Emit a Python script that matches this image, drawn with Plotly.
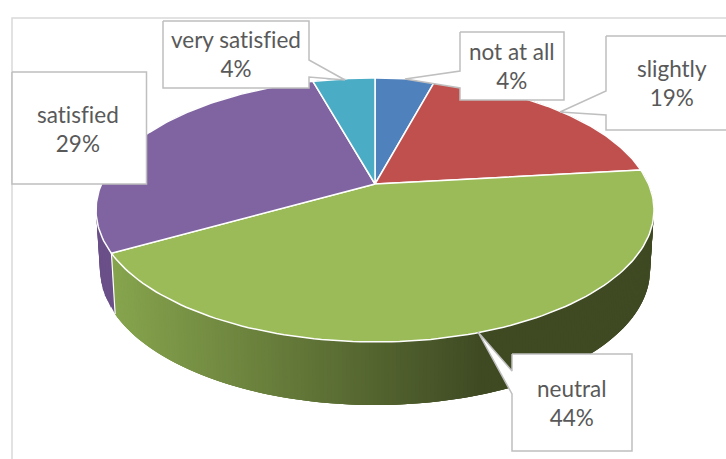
import numpy as np
import plotly.graph_objects as go

categories = ["not at all", "slightly", "neutral", "satisfied", "very satisfied"]
values = [4.2, 19.0, 43.6, 28.85, 4.35]
top_colors = ["#4F81BD", "#C0504D", "#9BBB59", "#8064A2", "#4BACC6"]
wall_colors = ["#3F608C", "#8E3B39", None, "#6A4F88", "#38809A"]

W, H = 726, 459
FRAME = "#D9D9D9"
BOX = "#BFBFBF"
TEXT = "#595959"
FONT = "Lato"
FS = 22.5

# Perspective projection of the unit circle onto the two rims
K = -0.197
def project(theta, cx, cy, cxs, ya):
    u, v = np.sin(theta), -np.cos(theta)
    d = 1 + K * v
    return cx + cxs * u / d, cy + ya * v / d

def top(theta):
    return project(theta, 375, 184, 273.5, 126.9)

def bottom(theta):
    return project(theta, 375, 243.4, 269.6, 129.8)

def mix(a, b, t):
    t = min(max(t, 0), 1)
    ca = [int(a[i:i+2], 16) for i in (1, 3, 5)]
    cb = [int(b[i:i+2], 16) for i in (1, 3, 5)]
    return "#%02X%02X%02X" % tuple(round(x + (y - x) * t) for x, y in zip(ca, cb))

fig = go.Figure()

def poly(xs, ys, fill, line=None, lw=1):
    fig.add_trace(go.Scatter(
        x=list(xs), y=list(ys), mode="lines", fill="toself", fillcolor=fill,
        line=dict(color=line or fill, width=lw), hoverinfo="skip", showlegend=False))

bounds = np.cumsum([0] + values) / sum(values) * 2 * np.pi

# side walls: each strip overlaps the next so no seams show
for i in range(len(values)):
    a0, a1 = bounds[i], bounds[i + 1]
    n = 240 if wall_colors[i] is None else 40
    edges = np.linspace(a0, a1, n + 1)
    step = edges[1] - edges[0]
    for e0 in edges[:-1]:
        e1 = min(e0 + 3 * step, a1)
        if wall_colors[i] is None:
            bx, _ = bottom(e0 + step / 2)
            col = mix("#86A44D", "#3F4A23", (bx - 118) / (480 - 118))
        else:
            col = wall_colors[i]
        tx0, ty0 = top(e0); tx1, ty1 = top(e1)
        bx0, by0 = bottom(e0); bx1, by1 = bottom(e1)
        poly([tx0, tx1, bx1, bx0, tx0], [ty0, ty1, by1, by0, ty0], col, lw=0)

# white edge between green and purple walls
ex0, ey0 = top(bounds[3]); ex1, ey1 = bottom(bounds[3])
fig.add_trace(go.Scatter(x=[ex0, ex1], y=[ey0, ey1], mode="lines",
                         line=dict(color="#FFFFFF", width=1.2), hoverinfo="skip", showlegend=False))

# top faces
for i in range(len(values)):
    t = np.linspace(bounds[i], bounds[i + 1], 120)
    ax, ay = top(t)
    xs = [375] + list(ax) + [375]
    ys = [184] + list(ay) + [184]
    poly(xs, ys, top_colors[i], line="#FFFFFF", lw=1.5)

# frame: only left and top edges fall inside the crop
fig.add_trace(go.Scatter(x=[12, 12, 740], y=[470, 18, 18], mode="lines",
                         line=dict(color=FRAME, width=1.5), hoverinfo="skip", showlegend=False))

# callouts: rectangle + pointer
callouts = {
    "very satisfied": ([163, 309, 309, 345, 309, 309, 163, 163], [21, 21, 60, 80, 77, 88, 88, 21], 236, 54),
    "satisfied": ([12, 146.5, 146.5, 12, 12], [72, 72, 184, 184, 72], 78, 129),
    "not at all": ([460, 564, 564, 460, 460, 405, 460, 460], [32, 32, 100, 100, 88, 79, 71, 32], 512, 66),
    "slightly": ([606, 760, 760, 606, 606, 560, 606, 606], [36, 36, 130, 130, 115, 112, 91, 36], 672, 83),
    "neutral": ([512, 632, 632, 512, 512, 478, 512, 512], [354, 354, 451, 451, 394, 332, 371, 354], 572, 403),
}
for name, v in zip(categories, values):
    xs, ys, tx, ty = callouts[name]
    poly(xs, ys, "#FFFFFF", line=BOX, lw=1.5)
    fig.add_annotation(x=tx, y=ty, xref="x", yref="y", showarrow=False,
                       text=f"{name}<br>{round(v)}%", align="center",
                       font=dict(family=FONT, size=FS, color=TEXT))

fig.update_layout(
    width=W, height=H, margin=dict(l=0, r=0, t=0, b=0),
    paper_bgcolor="#FFFFFF", plot_bgcolor="#FFFFFF", showlegend=False,
    xaxis=dict(range=[0, W], visible=False, fixedrange=True),
    yaxis=dict(range=[H, 0], visible=False, fixedrange=True),
)
post = """
document.body.style.margin = '0';
document.body.style.overflow = 'hidden';
var s = document.createElement('style');
s.textContent = 'text{font-variant-ligatures:none !important;}';
document.head.appendChild(s);
"""
fig.write_html("out.html", config={"displayModeBar": False}, post_script=post)
